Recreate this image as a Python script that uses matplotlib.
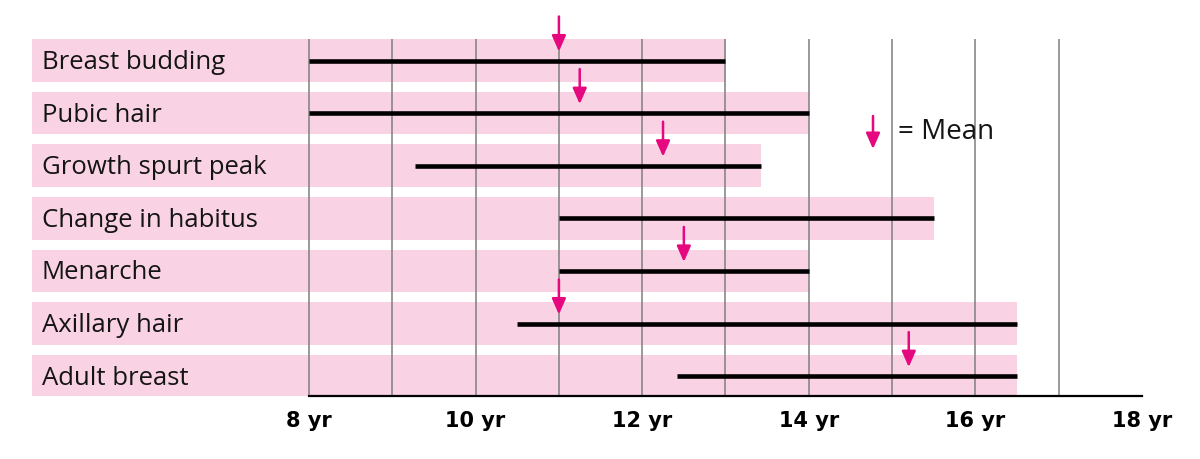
import matplotlib
matplotlib.use("Agg")
import matplotlib.pyplot as plt

categories = ["Breast budding", "Pubic hair", "Growth spurt peak", "Change in habitus",
              "Menarche", "Axillary hair", "Adult breast"]
range_start = [8.0, 8.0, 9.27, 11.0, 11.0, 10.5, 12.42]
range_end = [13.0, 14.0, 13.43, 15.5, 14.0, 16.5, 16.5]
mean_age = [11.0, 11.25, 12.25, None, 12.5, 11.0, 15.2]
tick_values = [8, 10, 12, 14, 16, 18]
tick_labels = ["8 yr", "10 yr", "12 yr", "14 yr", "16 yr", "18 yr"]
grid_years = list(range(8, 18))

PINK = "#f9d3e3"
MAGENTA = "#e5087e"

fig = plt.figure(figsize=(12, 4.6), dpi=100)
W, H = 1200, 460
left_px, right_px = 32, 1142
bottom_px = 397
ax = fig.add_axes([left_px / W, 1 - bottom_px / H, (right_px - left_px) / W, bottom_px / H])

x_left = 8 - (309 - left_px) / ((1142 - 309) / 10)
pitch = 52.6
first_c = 61.5
y_top = -first_c / pitch
y_bot = (bottom_px - first_c) / pitch
ax.set_xlim(x_left, 18)
ax.set_ylim(y_bot, y_top)

band_h = 42.5 / pitch
for i, cat in enumerate(categories):
    ax.barh(i, range_end[i] - x_left, left=x_left, height=band_h, color=PINK, zorder=1)
    ax.text(x_left + 0.12, i + 0.02, cat, va="center", ha="left", fontsize=18.5,
            family="Open Sans", color="#141414", zorder=5)

grid_top = -0.5 * band_h
for g in grid_years:
    ax.plot([g, g], [grid_top, y_bot], color="#7f7f7f", lw=1.1, zorder=2,
            solid_capstyle="butt")

ARROW = "-|>,head_length=0.95,head_width=0.42"
for i in range(len(categories)):
    ax.plot([range_start[i], range_end[i]], [i, i], color="black", lw=3.3, zorder=3,
            solid_capstyle="butt")
    m = mean_age[i]
    if m is not None:
        ax.annotate("", xy=(m, i - 9 / pitch), xytext=(m, i - 44 / pitch),
                    arrowprops=dict(arrowstyle=ARROW, color=MAGENTA, lw=1.8,
                                    shrinkA=0, shrinkB=0),
                    zorder=4)

# legend
lx = 8 + (873 - 309) / 83.3
ly_top = (117 - first_c) / pitch
ly_tip = (150 - first_c) / pitch
ax.annotate("", xy=(lx, ly_tip), xytext=(lx, ly_top),
            arrowprops=dict(arrowstyle=ARROW, color=MAGENTA, lw=1.8,
                            shrinkA=0, shrinkB=0), zorder=4)
ax.text(8 + (898 - 309) / 83.3, (132 - first_c) / pitch, "= Mean", fontsize=20,
        family="Open Sans", va="center", ha="left", color="#141414", zorder=5)

for s in ["top", "right", "left"]:
    ax.spines[s].set_visible(False)
ax.spines["bottom"].set_bounds(8, 18)
ax.spines["bottom"].set_linewidth(1.6)
ax.spines["bottom"].set_zorder(6)
ax.set_yticks([])
ax.set_xticks(tick_values)
ax.set_xticklabels(tick_labels, fontsize=15, fontweight="bold", family="DejaVu Sans")
ax.tick_params(axis="x", length=0, pad=10)

fig.savefig("out.png", dpi=100)
